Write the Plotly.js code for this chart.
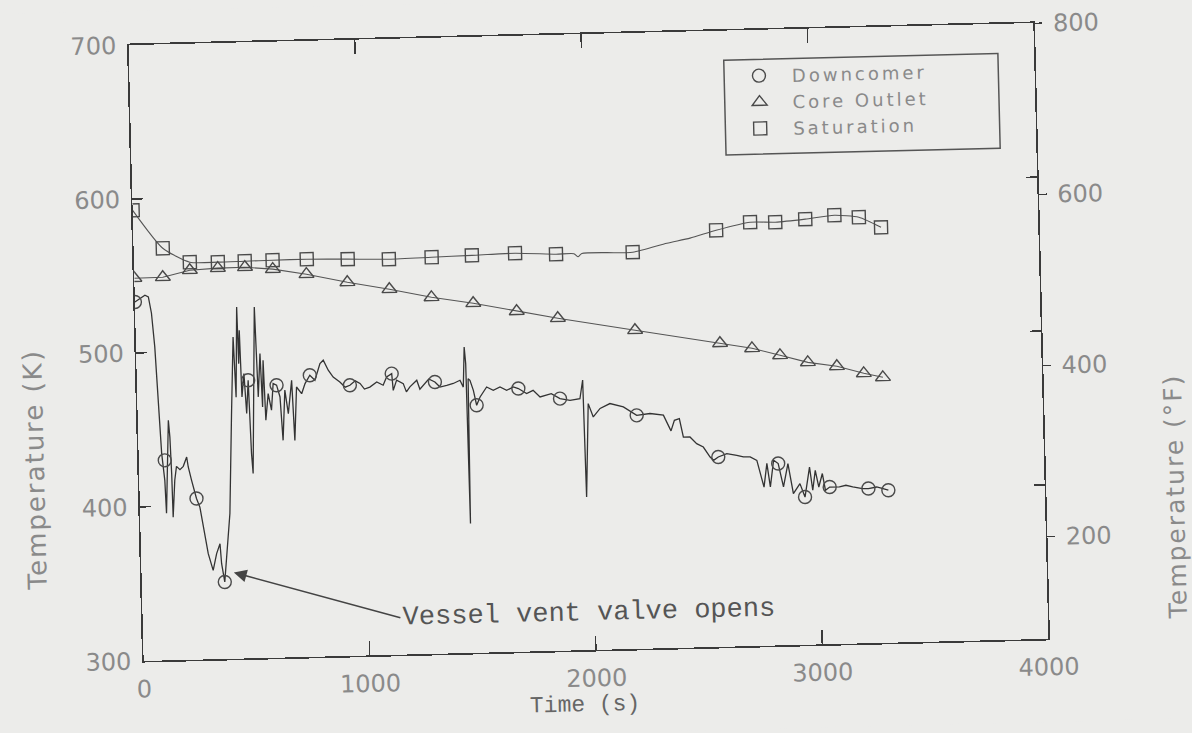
<!DOCTYPE html>
<html>
<head>
<meta charset="utf-8">
<script src="https://cdn.plot.ly/plotly-3.0.1.min.js"></script>
<style>
  html, body { margin: 0; padding: 0; background: #ececea; overflow: hidden; }
  #wrap { width: 1192px; height: 733px; transform: rotate(-1.4deg); transform-origin: 588px 342px; }
  #chart { width: 1192px; height: 733px; }
</style>
</head>
<body>
<div id="wrap"><div id="chart"></div></div>
<script>
// Downcomer fluid temperature (K) versus time (s)
const dcTime = [0,45,60,72,83,93,102,113,117,135,140,144,146,157,166,181,196,212,218,231,251,265,284,297,317,334,350,355,367,397,415,430,437,449,452,458,463,474,482,492,499,504,527,530,535,547,553,560,566,579,592,602,617,631,640,653,666,684,692,705,727,743,765,787,811,826,847,868,897,920,941,965,986,1005,1029,1060,1088,1104,1127,1132,1148,1177,1190,1206,1237,1250,1265,1290,1317,1339,1369,1398,1428,1442,1450,1455,1459,1464,1472,1486,1499,1515,1545,1574,1604,1633,1663,1685,1721,1750,1780,1830,1868,1912,1956,1970,1975,1992,2013,2044,2088,2147,2205,2264,2323,2355,2371,2393,2409,2438,2467,2496,2525,2540,2561,2599,2643,2672,2702,2731,2760,2775,2788,2805,2825,2846,2868,2889,2919,2940,2963,2975,2988,3002,3019,3031,3050,3093,3122,3152,3195,3221,3258,3309];
const dcTemp = [533.2,537.4,536.2,525.6,503.7,471.1,434.5,416.9,395.5,455.8,444.9,421.2,392.9,416.8,425.8,423.6,425.7,431.7,425.2,416.6,404.6,399.0,381.7,368.6,357.7,368.5,374.9,361.9,350.0,394.3,459.2,508.9,469.8,528.3,491.5,513.1,469.8,485.0,459.0,480.6,433.0,419.9,528.0,502.2,469.6,497.8,463.0,493.3,454.3,471.6,460.8,478.0,476.9,469.2,441.0,473.6,458.3,479.8,440.8,475.4,471.0,477.5,482.8,479.5,490.3,492.4,485.8,481.3,478.0,474.5,475.7,478.5,476.7,473.0,474.2,477.4,475.2,480.5,482.6,471.7,478.3,475.9,470.5,473.7,477.9,472.0,474.5,478.5,476.5,473.1,474.1,475.2,477.2,472.7,498.7,487.9,384.0,478.0,477.0,470.4,460.7,466.0,472.4,470.1,472.2,469.9,472.0,470.9,467.5,469.5,465.1,467.0,463.7,462.4,463.3,475.4,399.4,460.0,451.3,456.7,459.7,457.3,451.6,452.6,451.3,441.0,447.8,448.8,436.8,436.7,432.3,430.0,423.4,421.2,423.3,425.3,424.1,422.9,422.8,420.5,403.0,418.4,403.0,420.3,418.1,402.8,417.9,398.3,404.7,395.9,415.3,400.2,413.1,402.2,410.9,400.0,402.0,401.9,402.9,401.7,400.5,400.4,401.3,399.0];
// Downcomer marker samples
const dcMarkTime = [0,115,251,367,492,617,765,941,1127,1317,1499,1685,1868,2205,2561,2825,2940,3050,3221,3309];
const dcMarkTemp = [533.2,429.9,404.6,350.0,480.6,476.9,482.8,475.7,482.6,476.5,460.7,470.9,463.7,451.6,423.3,418.1,395.9,402.0,400.4,399.0];

// Core outlet temperature (K)
const coreTime = [0,126,246,370,490,613,761,941,1126,1311,1495,1686,1867,2207,2581,2722,2845,2967,3095,3213,3297];
const coreTemp = [548.6,548.8,552.9,553.8,554.0,552.3,548.5,542.6,537.4,531.5,527.0,521.1,515.9,506.9,497.1,493.3,488.3,483.3,480.3,475.3,472.4];

// Saturation temperature (K): curve and marker samples
const satTime = [0,129,247,371,490,613,764,945,1127,1316,1494,1685,1866,1945,1963,1980,2205,2357,2460,2576,2727,2838,2971,3100,3208,3305];
const satTemp = [592.7,567.6,558.1,557.7,557.9,558.1,558.2,557.6,556.9,557.5,558.1,558.8,557.5,557.5,555.5,557.6,557.6,562.9,565.8,570.5,575.2,574.8,576.3,578.4,576.7,569.8];
const satMarkTime = [0,129,247,371,490,613,764,945,1127,1316,1494,1685,1866,2205,2576,2727,2838,2971,3100,3208,3305];
const satMarkTemp = [592.7,567.6,558.1,557.7,557.9,558.1,558.2,557.6,556.9,557.5,558.1,558.8,557.5,557.6,570.5,575.2,574.8,576.3,578.4,576.7,569.8];

const seriesNames = ['Downcomer', 'Core Outlet', 'Saturation'];
const xTicks = [0, 1000, 2000, 3000, 4000];
const kTicks = [300, 400, 500, 600, 700];
const fTicks = [200, 400, 600, 800];
const kRange = [300, 700];

const toF = k => (k - 273.15) * 1.8 + 32;
const spaced = (s, px) => '<span style="letter-spacing:' + px + 'px">' + s + '</span>';

const ink = '#3a3a3a';
const markLine = {color: '#4a4a4a', width: 1.4};

const traces = [
  {x: dcTime, y: dcTemp, mode: 'lines', line: {color: '#333', width: 1.3}, showlegend: false, hoverinfo: 'skip'},
  {x: coreTime, y: coreTemp, mode: 'lines', line: {color: '#555', width: 1.1}, showlegend: false, hoverinfo: 'skip'},
  {x: satTime, y: satTemp, mode: 'lines', line: {color: '#555', width: 1.1, shape: 'spline', smoothing: 0.6}, showlegend: false, hoverinfo: 'skip'},
  {x: dcMarkTime, y: dcMarkTemp, name: spaced(seriesNames[0], 3), mode: 'markers',
   marker: {symbol: 'circle-open', size: 13, color: '#4a4a4a', line: markLine}},
  {x: coreTime, y: coreTemp, name: spaced(seriesNames[1], 3), mode: 'markers',
   marker: {symbol: 'triangle-up-open', size: 13, color: '#4a4a4a', line: markLine}},
  {x: satMarkTime, y: satMarkTemp, name: spaced(seriesNames[2], 3), mode: 'markers',
   marker: {symbol: 'square-open', size: 13, color: '#4a4a4a', line: markLine}},
  // invisible companion so the °F axis is laid out
  {x: [0], y: [toF(500)], yaxis: 'y2', mode: 'markers', marker: {opacity: 0}, showlegend: false, hoverinfo: 'skip'}
];

const tickFont = {family: 'DejaVu Sans', size: 24, color: '#8a8a8a'};
const titleFont = {family: 'DejaVu Sans', size: 26, color: '#8a8a8a'};

const layout = {
  width: 1192, height: 733,
  paper_bgcolor: '#ececea', plot_bgcolor: '#ececea',
  margin: {l: 136, r: 151, t: 34, b: 83},
  showlegend: true,
  legend: {
    x: 0.659, y: 0.955, xanchor: 'left', yanchor: 'top',
    borderwidth: 0, bgcolor: 'rgba(0,0,0,0)',
    font: {family: 'DejaVu Sans', size: 18, color: '#8a8a8a'},
    itemwidth: 56, traceorder: 'normal'
  },
  // frame around the legend entries
  shapes: [
    {type: 'rect', xref: 'paper', yref: 'paper', x0: 0.657, x1: 0.960, y0: 0.798, y1: 0.952,
     line: {color: '#555', width: 1.5}, fillcolor: 'rgba(0,0,0,0)'}
  ],
  xaxis: {
    range: [0, 4000], tickvals: xTicks, ticktext: xTicks.map(String),
    ticks: 'inside', ticklen: 14, tickwidth: 1.3, tickcolor: ink,
    showline: true, linecolor: ink, linewidth: 1.6, mirror: 'ticks',
    showgrid: false, zeroline: false, tickfont: tickFont, ticklabelstandoff: 6
  },
  yaxis: {
    range: kRange, tickvals: kTicks, ticktext: kTicks.map(String),
    ticks: 'inside', ticklen: 11, tickwidth: 1.3, tickcolor: ink,
    showline: true, linecolor: ink, linewidth: 1.6, mirror: 'ticks',
    showgrid: false, zeroline: false, tickfont: tickFont, ticklabelstandoff: 6
  },
  yaxis2: {
    overlaying: 'y', side: 'right', range: kRange.map(toF),
    tickvals: fTicks, ticktext: fTicks.map(String),
    ticks: 'outside', ticklen: 8, tickwidth: 1.3, tickcolor: ink,
    showline: false, showgrid: false, zeroline: false, tickfont: tickFont, ticklabelstandoff: 6
  },
  annotations: [
    {text: spaced('Temperature (K)', 2), xref: 'paper', yref: 'paper', x: -0.115, y: 0.315,
     xanchor: 'center', yanchor: 'middle', textangle: -90, showarrow: false, font: titleFont},
    {text: spaced('Temperature (°F)', 2), xref: 'paper', yref: 'paper', x: 1.1445, y: 0.226,
     xanchor: 'center', yanchor: 'middle', textangle: -90, showarrow: false,
     font: {family: 'DejaVu Sans', size: 25, color: '#8a8a8a'}},
    {text: 'Time (s)', xref: 'paper', yref: 'paper', x: 0.486, y: -0.089,
     xanchor: 'center', yanchor: 'middle', showarrow: false,
     font: {family: 'Liberation Mono', size: 23, color: '#666'}},
    {text: 'Vessel vent valve opens', x: 408, y: 356, xref: 'x', yref: 'y',
     ax: 1139, ay: 324, axref: 'x', ayref: 'y', xanchor: 'left', yanchor: 'middle',
     showarrow: true, arrowhead: 2, arrowsize: 1.6, arrowwidth: 1.6, arrowcolor: '#444',
     font: {family: 'Liberation Mono', size: 27, color: '#555'}}
  ]
};

Plotly.newPlot('chart', traces, layout, {staticPlot: true});
</script>
</body>
</html>
